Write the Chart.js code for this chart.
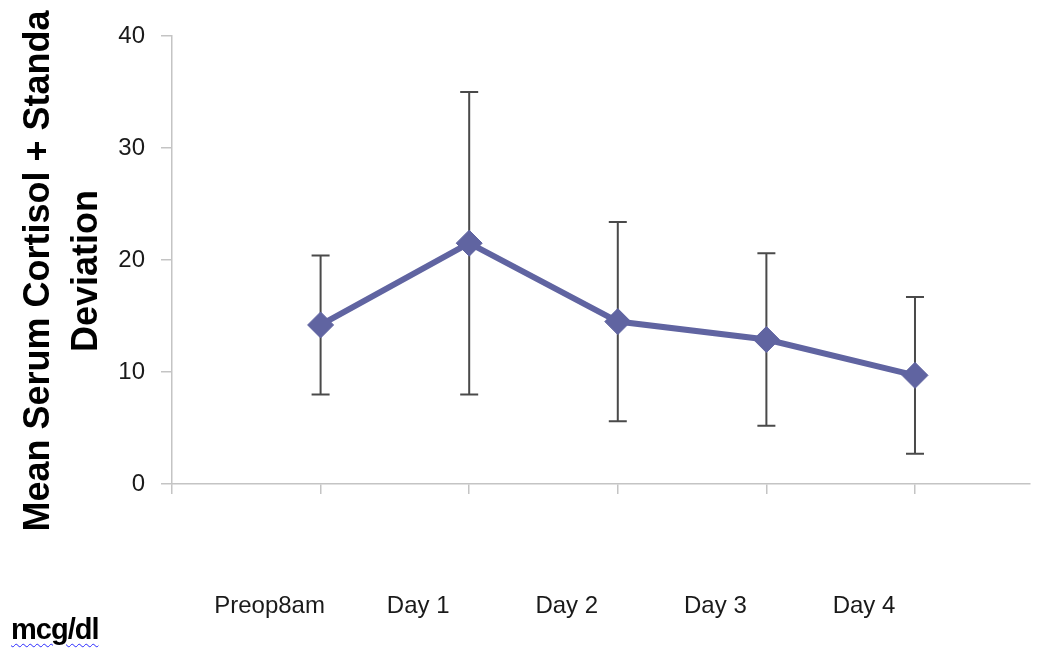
<!DOCTYPE html>
<html>
<head>
<meta charset="utf-8">
<script src="https://cdn.jsdelivr.net/npm/chart.js@4.4.1/dist/chart.umd.min.js"></script>
<style>
  html, body { margin: 0; padding: 0; background: #fff; overflow: hidden; }
  #wrap { position: relative; width: 1044px; height: 652px; overflow: hidden; }
  canvas { position: absolute; left: 0; top: 0; }
  #ytitle {
    position: absolute; width: 560px; height: 96px; left: -218.6px; top: 223px;
    transform: rotate(-90deg); transform-origin: 50% 50%;
    font: bold 36px "Liberation Sans", Arial, sans-serif; line-height: 48px;
    text-align: center; color: #000; white-space: nowrap;
  }
  #unit {
    position: absolute; left: 11px; top: 613px;
    font: bold 29px "Liberation Sans", Arial, sans-serif; letter-spacing: -1px; color: #000;
    text-decoration: underline wavy #2a2aff; text-decoration-thickness: 1px; text-underline-offset: 4px;
  }
</style>
</head>
<body>
<div id="wrap">
  <canvas id="c" width="1044" height="652"></canvas>
  <div id="ytitle">Mean Serum Cortisol + Standa<br>Deviation</div>
  <div id="unit">mcg/dl</div>
</div>
<script>
const categories = ['Preop8am', 'Day 1', 'Day 2', 'Day 3', 'Day 4'];
const meanCortisol = [14.2, 21.5, 14.5, 12.9, 9.7];
const sdCortisol = [6.2, 13.5, 8.9, 7.7, 7.0];
const yTicks = [0, 10, 20, 30, 40];

const lineColor = '#6064a1';
const axisColor = '#c4c4c4';

const errorBars = {
  id: 'errorBars',
  beforeDatasetsDraw(chart) {
    const { ctx, scales: { x, y } } = chart;
    ctx.save();
    ctx.strokeStyle = '#4a4a4a';
    ctx.lineWidth = 2;
    meanCortisol.forEach((m, i) => {
      const px = x.getPixelForValue(i + 1);
      const top = y.getPixelForValue(m + sdCortisol[i]);
      const bot = y.getPixelForValue(m - sdCortisol[i]);
      ctx.beginPath();
      ctx.moveTo(px, top); ctx.lineTo(px, bot);
      ctx.moveTo(px - 9, top); ctx.lineTo(px + 9, top);
      ctx.moveTo(px - 9, bot); ctx.lineTo(px + 9, bot);
      ctx.stroke();
    });
    ctx.restore();
  }
};

new Chart(document.getElementById('c'), {
  type: 'line',
  data: {
    datasets: [{
      data: meanCortisol.map((v, i) => ({ x: i + 1, y: v })),
      borderColor: lineColor,
      backgroundColor: lineColor,
      borderWidth: 6,
      pointStyle: 'rectRot',
      pointRadius: 13,
      pointBorderWidth: 1,
      pointBackgroundColor: lineColor,
      pointBorderColor: lineColor,
      tension: 0
    }]
  },
  options: {
    responsive: false,
    animation: false,
    layout: { padding: { top: 36, right: 0, left: 0, bottom: 0 } },
    plugins: { legend: { display: false }, tooltip: { enabled: false } },
    scales: {
      x: {
        type: 'linear',
        min: 0,
        max: 5.774,
        afterFit(scale) { scale.height = 168; },
        grid: { drawOnChartArea: false, drawTicks: true, tickLength: 10, lineWidth: 1.5, color: axisColor },
        border: { color: axisColor, width: 1.5 },
        ticks: {
          stepSize: 1,
          includeBounds: false,
          autoSkip: false,
          maxRotation: 0,
          padding: 3,
          labelOffset: -51,
          color: '#1a1a1a',
          font: { family: '"Liberation Sans", Arial, sans-serif', size: 24, lineHeight: 3.03 },
          callback: (v) => ['', categories[v - 1] || '']
        }
      },
      y: {
        min: 0,
        max: 40,
        afterFit(scale) { scale.width = 172; },
        afterBuildTicks(scale) { scale.ticks = yTicks.map(v => ({ value: v })); },
        grid: { drawOnChartArea: false, drawTicks: true, tickLength: 11, color: axisColor, lineWidth: 1.5 },
        border: { color: axisColor, width: 1.5 },
        ticks: {
          padding: 16,
          color: '#1a1a1a',
          font: { family: '"Liberation Sans", Arial, sans-serif', size: 24 }
        }
      }
    }
  },
  plugins: [errorBars]
});
</script>
</body>
</html>
